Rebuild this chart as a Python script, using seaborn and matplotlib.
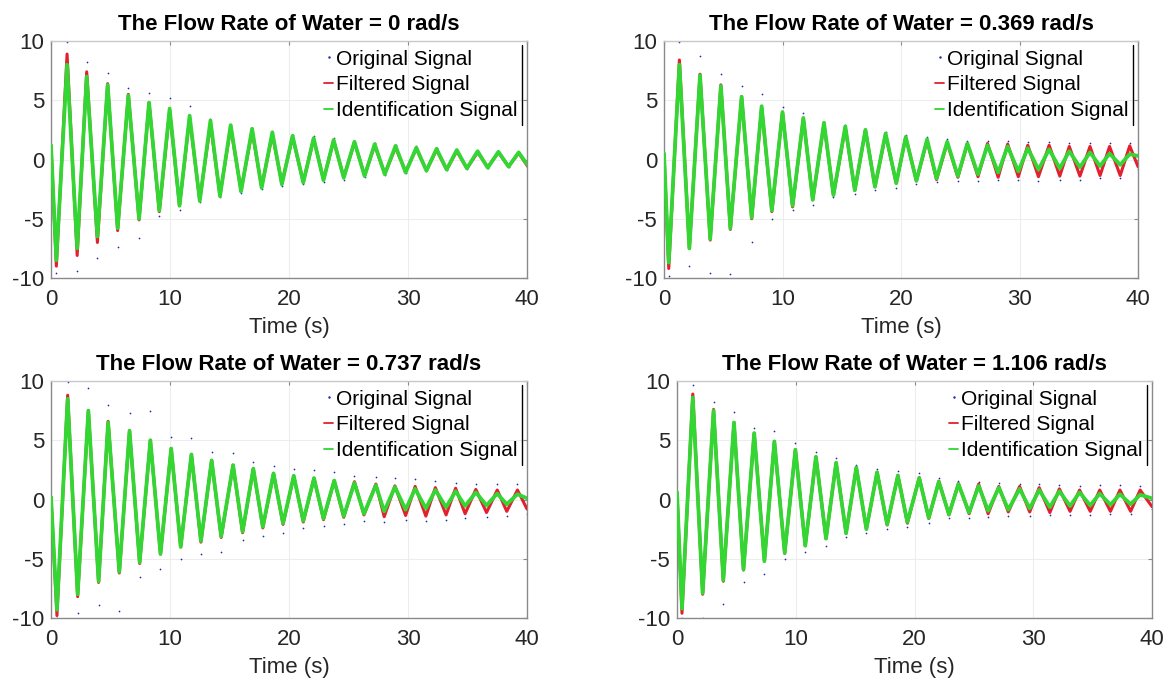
import numpy as np
import matplotlib
matplotlib.use("Agg")
import matplotlib.pyplot as plt
from matplotlib.lines import Line2D
import seaborn as sns

# Extremum times (s) and values: start, trough, peak, ..., end
titles = ["The Flow Rate of Water = 0 rad/s", "The Flow Rate of Water = 0.369 rad/s",
          "The Flow Rate of Water = 0.737 rad/s", "The Flow Rate of Water = 1.106 rad/s"]

t_0 = [0, 0.45, 1.35, 2.2, 3.0, 3.9, 4.76, 5.6, 6.5, 7.4,
       8.24, 9.1, 9.97, 10.8, 11.65, 12.5, 13.4, 14.2, 15.1, 15.97,
       16.9, 17.7, 18.6, 19.4, 20.3, 21.2, 22.07, 22.9, 23.75, 24.6,
       25.5, 26.35, 27.2, 28.05, 28.95, 29.8, 30.7, 31.55, 32.4, 33.25,
       34.1, 34.95, 35.85, 36.7, 37.6, 38.45, 39.3, 40]
filt_0 = [1.2, -9.0, 8.9, -8.1, 7.4, -7.0, 6.4, -6.0, 5.5, -5.1,
          4.8, -4.4, 4.1, -3.9, 3.5, -3.4, 3.0, -3.0, 2.7, -2.6,
          2.4, -2.3, 2.1, -2.0, 1.9, -1.9, 1.75, -1.7, 1.6, -1.5,
          1.45, -1.35, 1.2, -1.2, 1.0, -1.0, 0.9, -0.9, 0.8, -0.85,
          0.7, -0.75, 0.6, -0.65, 0.6, -0.6, 0.55, -0.5]
ident_0 = [1.2, -8.5, 8.0, -7.5, 7.0, -6.5, 6.3, -5.8, 5.4, -5.0,
           4.8, -4.3, 4.3, -3.9, 3.7, -3.5, 3.3, -3.1, 2.9, -2.7,
           2.6, -2.4, 2.3, -2.1, 2.0, -1.95, 1.8, -1.75, 1.65, -1.55,
           1.5, -1.4, 1.3, -1.25, 1.15, -1.1, 1.0, -0.95, 0.9, -0.85,
           0.8, -0.75, 0.7, -0.7, 0.65, -0.6, 0.6, -0.4]
orig_0 = [1.0, -9.6, 9.9, -9.4, 8.2, -8.3, 7.3, -7.4, 6.0, -6.6,
          5.6, -4.8, 5.2, -4.3, 4.5, -3.6, 3.4, -3.2, 2.9, -2.8,
          2.6, -2.5, 2.3, -2.2, 2.1, -2.1, 2.0, -1.9, 1.8, -1.7,
          1.6, -1.5, 1.4, -1.3, 1.2, -1.1, 1.1, -1.0, 1.0, -0.9,
          0.8, -0.8, 0.7, -0.7, 0.7, -0.6, 0.6, -0.6]

t_1 = [0, 0.4, 1.3, 2.14, 3.04, 3.9, 4.8, 5.6, 6.55, 7.4,
       8.24, 9.1, 10.0, 10.85, 11.76, 12.55, 13.5, 14.3, 15.3, 16.1,
       17.0, 17.8, 18.7, 19.6, 20.4, 21.3, 22.2, 23.0, 23.9, 24.8,
       25.6, 26.5, 27.3, 28.2, 29.0, 29.9, 30.7, 31.6, 32.5, 33.4,
       34.2, 35.1, 35.95, 36.8, 37.6, 38.5, 39.3, 40]
filt_1 = [0.5, -9.2, 8.4, -7.5, 7.2, -6.8, 6.3, -5.9, 5.3, -5.0,
          4.4, -4.4, 4.0, -4.0, 3.5, -3.4, 3.0, -3.0, 2.7, -2.6,
          2.5, -2.3, 2.1, -2.0, 1.9, -1.8, 1.6, -1.7, 1.4, -1.5,
          1.35, -1.45, 1.35, -1.5, 1.3, -1.45, 1.2, -1.45, 1.2, -1.4,
          1.1, -1.4, 1.1, -1.35, 1.1, -1.35, 1.15, -0.6]
ident_1 = [0.5, -8.7, 8.0, -7.5, 7.1, -6.7, 6.2, -5.8, 5.3, -4.9,
           4.5, -4.3, 4.0, -3.9, 3.5, -3.4, 3.1, -3.0, 2.8, -2.6,
           2.5, -2.3, 2.2, -2.0, 1.9, -1.8, 1.7, -1.6, 1.5, -1.4,
           1.35, -1.25, 1.2, -1.1, 1.1, -1.0, 0.95, -0.85, 0.85, -0.75,
           0.7, -0.65, 0.6, -0.55, 0.5, -0.45, 0.45, 0.3]
orig_1 = [0.4, -9.8, 9.9, -9.0, 8.7, -9.6, 7.2, -9.7, 6.2, -7.0,
          5.5, -5.0, 4.4, -4.3, 3.9, -3.8, 3.2, -3.2, 2.9, -2.9,
          2.6, -2.6, 2.3, -2.4, 2.1, -2.1, 1.9, -1.9, 1.7, -1.8,
          1.6, -1.8, 1.6, -1.7, 1.6, -1.7, 1.5, -1.8, 1.5, -1.7,
          1.4, -1.7, 1.4, -1.6, 1.4, -1.6, 1.4, -0.8]

t_2 = [0, 0.5, 1.4, 2.24, 3.14, 4.0, 4.8, 5.74, 6.6, 7.45,
       8.35, 9.2, 10.1, 10.9, 11.8, 12.6, 13.5, 14.3, 15.3, 16.1,
       17.0, 17.8, 18.7, 19.5, 20.4, 21.2, 22.1, 22.9, 23.8, 24.6,
       25.5, 26.3, 27.3, 28.0, 28.9, 29.8, 30.6, 31.5, 32.3, 33.2,
       34.0, 34.8, 35.7, 36.6, 37.5, 38.3, 39.2, 40]
filt_2 = [0.2, -9.8, 8.8, -8.2, 7.5, -7.0, 6.6, -6.2, 5.8, -5.4,
          5.0, -4.6, 4.3, -4.0, 3.8, -3.6, 3.3, -3.2, 2.9, -2.8,
          2.6, -2.4, 2.2, -2.1, 2.0, -1.9, 1.8, -1.7, 1.6, -1.5,
          1.5, -1.3, 1.3, -1.45, 1.15, -1.35, 1.1, -1.4, 1.0, -1.3,
          0.95, -1.2, 0.85, -1.1, 0.8, -1.0, 0.8, -0.8]
ident_2 = [0.2, -9.3, 8.5, -8.0, 7.5, -6.9, 6.5, -6.1, 5.8, -5.3,
           5.0, -4.6, 4.3, -4.0, 3.8, -3.5, 3.3, -3.1, 2.9, -2.7,
           2.6, -2.3, 2.2, -2.0, 2.0, -1.8, 1.8, -1.6, 1.6, -1.4,
           1.4, -1.2, 1.2, -1.0, 1.05, -0.85, 0.9, -0.75, 0.8, -0.65,
           0.7, -0.55, 0.6, -0.5, 0.5, -0.4, 0.45, 0.1]
orig_2 = [0.2, -10.0, 9.9, -9.6, 9.4, -8.9, 8.0, -9.4, 7.3, -6.5,
          7.5, -5.9, 5.3, -5.0, 5.2, -4.6, 4.0, -4.4, 3.9, -3.4,
          3.2, -3.1, 2.8, -2.8, 2.6, -2.4, 2.5, -2.2, 2.3, -2.1,
          2.0, -1.8, 1.9, -1.9, 1.8, -1.7, 1.7, -1.8, 1.6, -1.7,
          1.4, -1.6, 1.3, -1.5, 1.3, -1.4, 1.3, -1.2]

t_3 = [0, 0.42, 1.33, 2.16, 3.08, 3.9, 4.8, 5.6, 6.5, 7.36,
       8.2, 9.07, 9.97, 10.8, 11.7, 12.55, 13.4, 14.24, 15.1, 15.95,
       16.85, 17.7, 18.6, 19.4, 20.4, 21.2, 22.05, 22.9, 23.7, 24.6,
       25.4, 26.2, 27.1, 27.9, 28.85, 29.7, 30.5, 31.4, 32.2, 33.1,
       33.9, 34.8, 35.6, 36.5, 37.3, 38.2, 39.0, 40]
filt_3 = [0.6, -9.6, 8.9, -8.0, 7.6, -6.9, 6.5, -5.95, 5.6, -5.2,
          4.9, -4.55, 4.2, -3.9, 3.6, -3.3, 3.1, -2.85, 2.7, -2.5,
          2.3, -2.15, 2.05, -2.0, 1.85, -1.6, 1.55, -1.3, 1.35, -1.2,
          1.3, -1.2, 1.1, -1.05, 1.1, -1.05, 1.0, -1.1, 0.9, -1.0,
          0.8, -1.0, 0.8, -1.0, 0.8, -1.0, 0.8, -0.6]
ident_3 = [0.6, -9.2, 8.6, -7.9, 7.5, -6.8, 6.5, -5.9, 5.6, -5.2,
           4.9, -4.5, 4.2, -3.9, 3.6, -3.3, 3.1, -2.85, 2.7, -2.5,
           2.3, -2.1, 2.0, -1.9, 1.8, -1.55, 1.5, -1.25, 1.3, -1.1,
           1.15, -0.95, 1.0, -0.85, 0.9, -0.75, 0.8, -0.65, 0.7, -0.55,
           0.6, -0.5, 0.5, -0.45, 0.45, -0.4, 0.4, 0.1]
orig_3 = [0.5, -10.0, 9.7, -10.0, 8.2, -8.8, 7.4, -7.0, 6.0, -6.3,
          5.8, -5.0, 4.8, -4.4, 4.0, -3.9, 3.5, -3.2, 2.9, -2.8,
          2.6, -2.5, 2.4, -2.3, 2.2, -2.0, 1.8, -1.6, 1.6, -1.6,
          1.5, -1.5, 1.4, -1.4, 1.3, -1.4, 1.3, -1.3, 1.2, -1.3,
          1.1, -1.3, 1.2, -1.2, 1.2, -1.2, 1.1, -0.8]

times = [t_0, t_1, t_2, t_3]
filtered = [filt_0, filt_1, filt_2, filt_3]
identified = [ident_0, ident_1, ident_2, ident_3]
original = [orig_0, orig_1, orig_2, orig_3]

x_ticks = [0, 10, 20, 30, 40]
y_ticks = [-10, -5, 0, 5, 10]

sns.set_style("white")
plt.rcParams['font.family'] = ['Liberation Sans', 'DejaVu Sans']
plt.rcParams['axes.unicode_minus'] = False

RED = '#e3202e'
GREEN = '#33d633'
BLUE = '#1a2aa8'
TXT = '#262626'

fig = plt.figure(figsize=(11.68, 6.86), dpi=100)
W, H = 1168, 686
# axes boxes in pixels: (left, top, right, bottom)
boxes = [(51, 41, 527, 278), (664, 41, 1138, 278),
         (51, 381, 527, 618), (677, 381, 1152, 618)]

axes = []
for i, (l, t, r, b) in enumerate(boxes):
    ax = fig.add_axes([l / W, 1 - b / H, (r - l) / W, (b - t) / H])
    axes.append(ax)

    sns.scatterplot(x=times[i], y=original[i], ax=ax, color=BLUE, s=6,
                    marker='.', edgecolor=None, linewidth=0, zorder=2)
    sns.lineplot(x=times[i], y=filtered[i], ax=ax, color=RED, lw=2.2,
                 sort=False, estimator=None, zorder=3)
    sns.lineplot(x=times[i], y=identified[i], ax=ax, color=GREEN, lw=2.7,
                 sort=False, estimator=None, zorder=4)

    ax.set_xlim(0, 40)
    ax.set_ylim(-10, 10)
    ax.set_xticks(x_ticks)
    ax.set_yticks(y_ticks)
    ax.grid(True, color='#ededed', lw=0.8)
    ax.set_axisbelow(True)
    for s in ax.spines.values():
        s.set_color('#8a8a8a')
        s.set_linewidth(1.0)
    ax.spines['top'].set_color('#c8c8c8')
    ax.tick_params(axis='both', labelsize=16, direction='in', length=3,
                   color='#8a8a8a', top=True, right=True, labelcolor=TXT)
    ax.tick_params(axis='x', pad=8)
    ax.tick_params(axis='y', pad=5)
    ax.set_xlabel('Time (s)', fontsize=16, labelpad=5, color=TXT)
    ax.set_ylabel('')
    ax.set_title(titles[i], fontsize=16, fontweight='bold', pad=8, color='black')

    handles = [Line2D([], [], color=BLUE, marker='.', ms=1.5, lw=0),
               Line2D([], [], color=RED, lw=1.3),
               Line2D([], [], color=GREEN, lw=1.3)]
    leg = ax.legend(handles, ['Original Signal', 'Filtered Signal', 'Identification Signal'],
                    loc='upper right', bbox_to_anchor=(0.99, 0.985), frameon=False,
                    fontsize=15, handlelength=0.45, handletextpad=0.1,
                    labelspacing=0.32, borderaxespad=0.0, borderpad=0.25)
    for txt in leg.get_texts():
        txt.set_color('black')
    ax._leg = leg

fig.canvas.draw()
for ax in axes:
    bb = ax._leg.get_window_extent()
    fig.add_artist(Line2D([bb.x1 / W, bb.x1 / W], [bb.y0 / H, bb.y1 / H],
                          color='black', lw=1.0, transform=fig.transFigure))

fig.savefig('out.png', dpi=100)
